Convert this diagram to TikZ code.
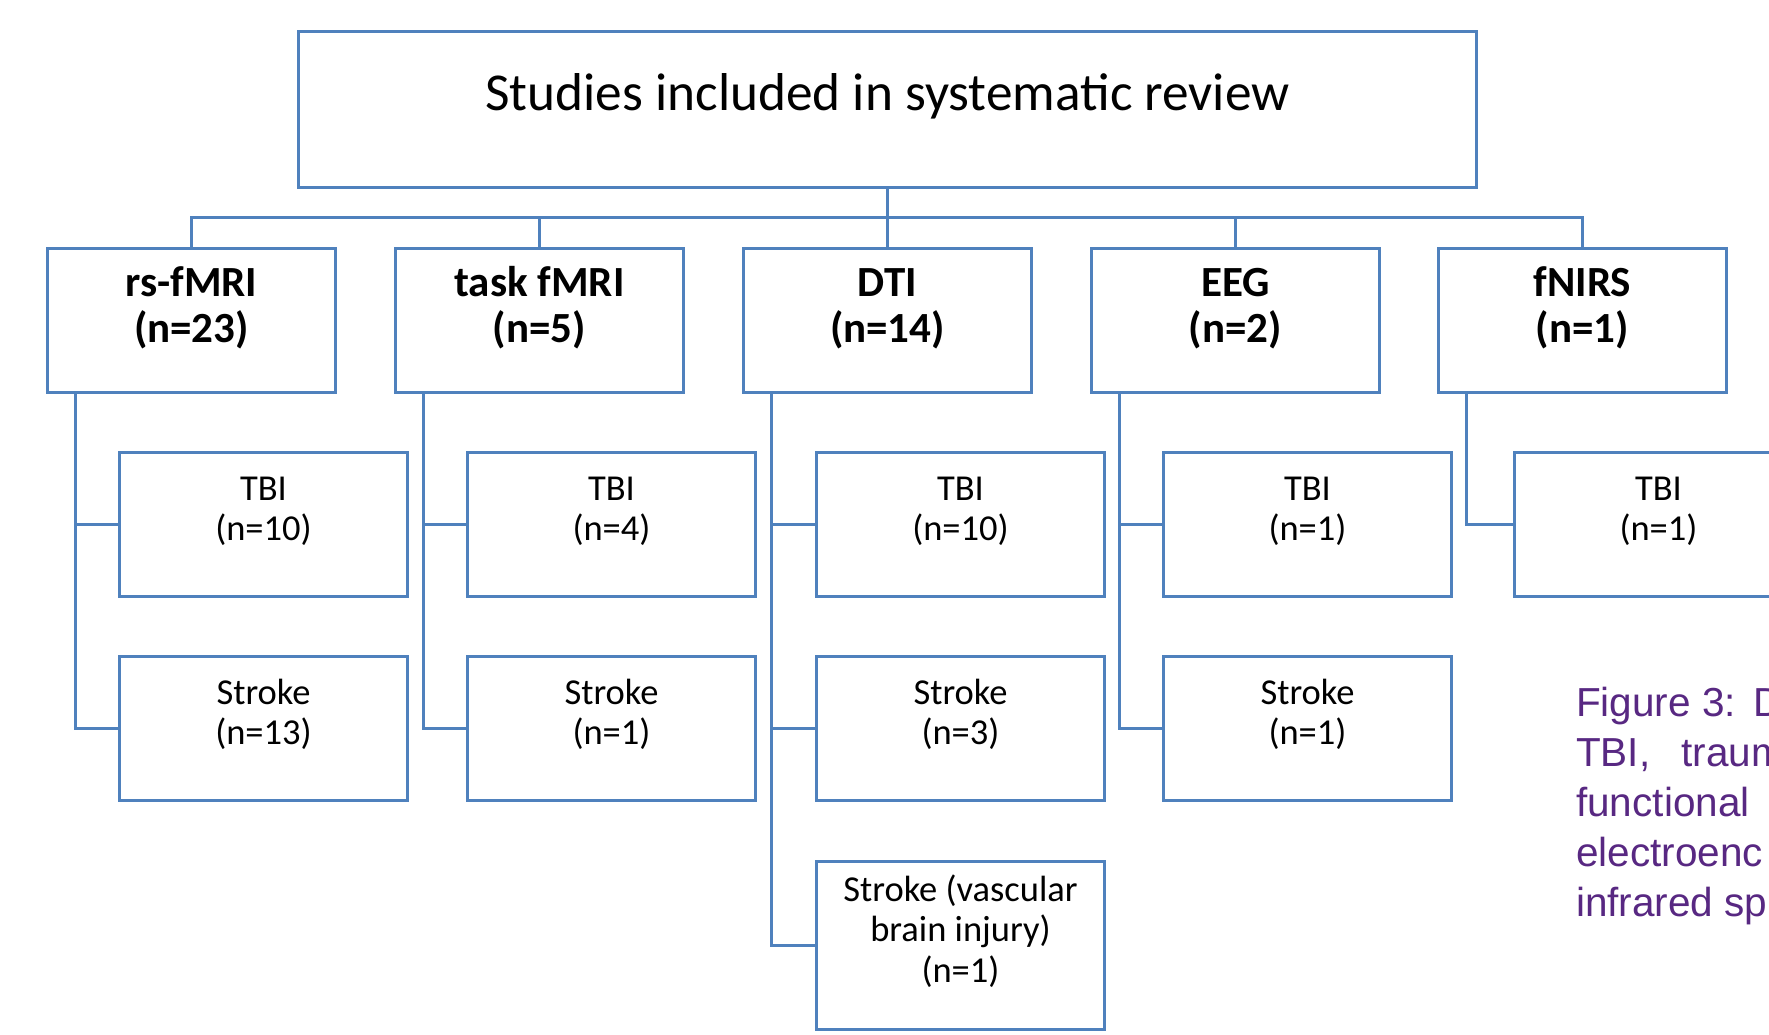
\documentclass[tikz,border=0pt]{standalone}
\usepackage{fontspec}
\setmainfont{Carlito}
\newfontfamily\capfont{Liberation Sans}
\usetikzlibrary{calc}
\definecolor{boxblue}{RGB}{79,129,189}
\definecolor{capurple}{RGB}{88,40,130}
\begin{document}
\begin{tikzpicture}[x=1pt,y=-1pt,
  bx/.style={draw=boxblue, line width=3pt, inner sep=0pt, anchor=north west, minimum width=288pt, minimum height=144pt},
  conn/.style={draw=boxblue, line width=3pt},
  toptxt/.style={font=\fontsize{53.3}{62}\selectfont, inner sep=0pt},
  cattxt/.style={font=\fontsize{43}{46}\selectfont\bfseries, align=center, inner sep=0pt},
  subtxt/.style={font=\fontsize{36.5}{40.5}\selectfont, align=center, inner sep=0pt},
  captxt/.style={font=\capfont\fontsize{40.5}{50}\selectfont, text=capurple, align=left, anchor=north west, inner sep=0pt}
]
\useasboundingbox[fill=white] (0,0) rectangle (1769,1034);
\clip (0,0) rectangle (1769,1034);

% top box
\node[bx, minimum width=1178pt, minimum height=156pt] (top) at (297,30) {};
\node[toptxt] (toptext) at ([yshift=11pt]top.center) {\strut Studies included in systematic review};

% category boxes
\node[bx] (rs)  at (46,247)   {};
\node[bx] (tf)  at (394,247)  {};
\node[bx] (dti) at (742,247)  {};
\node[bx] (eeg) at (1090,247) {};
\node[bx] (fn)  at (1437,247) {};
\node[cattxt] (rst)  at ([yshift=10.5pt]rs.center)  {\strut rs-fMRI\\\strut (n=23)};
\node[cattxt] (tft)  at ([yshift=10.5pt]tf.center)  {\strut task fMRI\\\strut (n=5)};
\node[cattxt] (dtit) at ([yshift=10.5pt]dti.center) {\strut DTI\\\strut (n=14)};
\node[cattxt] (eegt) at ([yshift=10.5pt]eeg.center) {\strut EEG\\\strut (n=2)};
\node[cattxt] (fnt)  at ([yshift=10.5pt]fn.center)  {\strut fNIRS\\\strut (n=1)};

% sub boxes
\node[bx] (rstbi)  at (118,451)  {};
\node[bx] (rsstr)  at (118,655)  {};
\node[bx] (tftbi)  at (466,451)  {};
\node[bx] (tfstr)  at (466,655)  {};
\node[bx] (dtitbi) at (815,451)  {};
\node[bx] (dtistr) at (815,655)  {};
\node[bx, minimum height=168pt] (dtivas) at (815,860) {};
\node[bx] (eegtbi) at (1162,451) {};
\node[bx] (eegstr) at (1162,655) {};
\node[bx] (fntbi)  at (1513,451) {};

\node[subtxt] (rstbit)  at ([yshift=12pt]rstbi.center)  {\strut TBI\\\strut (n=10)};
\node[subtxt] (rsstrt)  at ([yshift=12pt]rsstr.center)  {\strut Stroke\\\strut (n=13)};
\node[subtxt] (tftbit)  at ([yshift=12pt]tftbi.center)  {\strut TBI\\\strut (n=4)};
\node[subtxt] (tfstrt)  at ([yshift=12pt]tfstr.center)  {\strut Stroke\\\strut (n=1)};
\node[subtxt] (dtitbit) at ([yshift=12pt]dtitbi.center) {\strut TBI\\\strut (n=10)};
\node[subtxt] (dtistrt) at ([yshift=12pt]dtistr.center) {\strut Stroke\\\strut (n=3)};
\node[subtxt] (dtivast) at ([yshift=12pt]dtivas.center) {\strut Stroke (vascular\\\strut brain injury)\\\strut (n=1)};
\node[subtxt] (eegtbit) at ([yshift=12pt]eegtbi.center) {\strut TBI\\\strut (n=1)};
\node[subtxt] (eegstrt) at ([yshift=12pt]eegstr.center) {\strut Stroke\\\strut (n=1)};
\node[subtxt] (fntbit)  at ([yshift=12pt]fntbi.center)  {\strut TBI\\\strut (n=1)};

% connectors level 1 -> 2
\coordinate (bus) at (886,217);
\draw[conn] (top.south) -- (dti.north);
\draw[conn] (rs.north) |- (bus) -| (fn.north);
\draw[conn] (tf.north) |- (bus);
\draw[conn] (eeg.north) |- (bus);

% connectors level 2 -> 3
\draw[conn] ([xshift=29.5pt]rs.south west) |- (rstbi.west);
\draw[conn] ([xshift=29.5pt]rs.south west) |- (rsstr.west);
\draw[conn] ([xshift=29.5pt]tf.south west) |- (tftbi.west);
\draw[conn] ([xshift=29.5pt]tf.south west) |- (tfstr.west);
\draw[conn] ([xshift=29.5pt]dti.south west) |- (dtitbi.west);
\draw[conn] ([xshift=29.5pt]dti.south west) |- (dtistr.west);
\draw[conn] ([xshift=29.5pt]dti.south west) |- (dtivas.west);
\draw[conn] ([xshift=29.5pt]eeg.south west) |- (eegtbi.west);
\draw[conn] ([xshift=29.5pt]eeg.south west) |- (eegstr.west);
\draw[conn] ([xshift=29.5pt]fn.south west) |- (fntbi.west);

% caption (cut by the right edge, as in the reference)
\node[captxt] (cap) at (1576,681) {\strut Figure 3:\hspace{17pt}D\\TBI,\hspace{31pt}traum\\functional\\electroenc\\infrared sp};
\end{tikzpicture}
\end{document}
